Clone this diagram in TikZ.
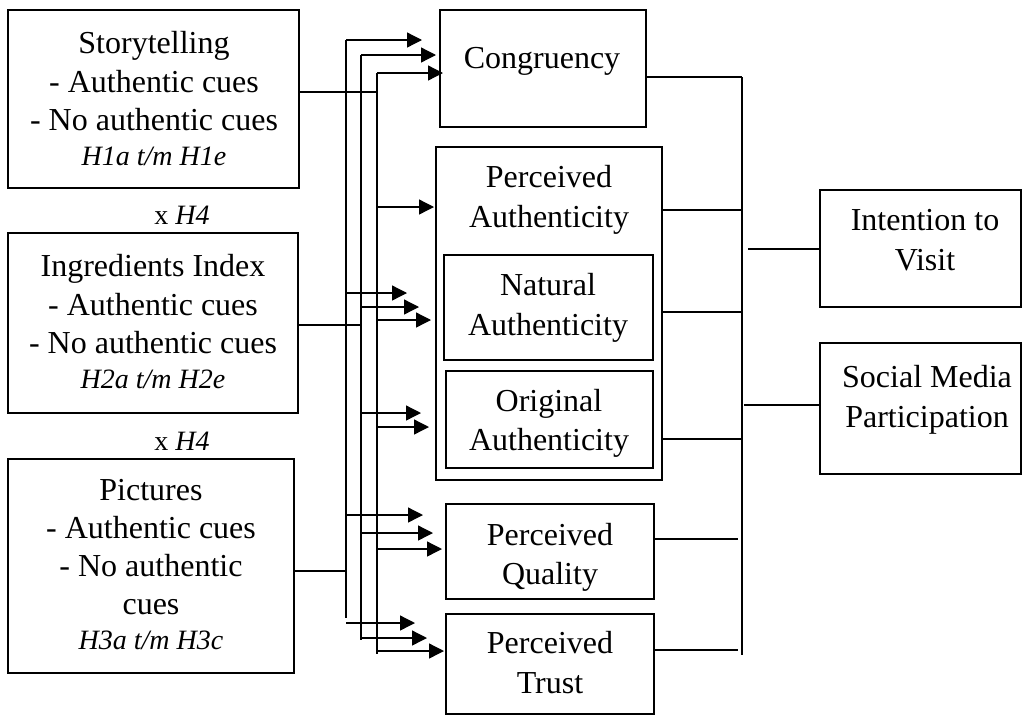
\documentclass[tikz,border=0pt]{standalone}
\usepackage{fontspec}
\setmainfont{Liberation Serif}
\usetikzlibrary{arrows.meta}
\newcommand\mkbox[5]{\node[box, minimum width={(#4)-(#2)}, minimum height={(#5)-(#3)}] (#1) at ({((#2)+(#4))/2},{((#3)+(#5))/2}) {};}
\begin{document}
\begin{tikzpicture}[x=1pt,y=-1pt,
  box/.style={draw, line width=2.6pt, inner sep=0pt, outer sep=0pt},
  txt/.style={anchor=base, inner sep=0pt, font=\fontsize{32}{39}\selectfont},
  hyp/.style={anchor=base, inner sep=0pt, font=\fontsize{28}{34}\selectfont\itshape},
  sml/.style={anchor=base, inner sep=0pt, font=\fontsize{28}{34}\selectfont},
  conn/.style={line width=1.3pt},
  arr/.style={line width=1.3pt, -{Triangle[length=15pt,width=15pt]}}]
\useasboundingbox (0,0) rectangle (1024,718);

% boxes
\mkbox{story}{8}{10}{299}{188}
\mkbox{ingr}{8}{233}{298}{413}
\mkbox{pict}{8}{459}{294}{673}
\mkbox{cong}{440}{10}{646}{127}
\mkbox{pa}{436}{147}{662}{480}
\mkbox{nat}{444}{255}{653}{360}
\mkbox{orig}{446}{371}{653}{468}
\mkbox{qual}{446}{504}{654}{599}
\mkbox{trust}{446}{614}{654}{714}
\mkbox{intent}{820}{190}{1021}{307}
\mkbox{social}{820}{343}{1021}{474}

% texts left
\node[txt] (t1) at (154,53) {Storytelling};
\node[txt] (t2) at (154,92) {- Authentic cues};
\node[txt] (t3) at (154,130) {- No authentic cues};
\node[hyp] (t4) at (154,165) {H1a t/m H1e};
\node[sml] (x1) at (182,224) {x \textit{H4}};
\node[txt] (t5) at (153,276) {Ingredients Index};
\node[txt] (t6) at (153,315) {- Authentic cues};
\node[txt] (t7) at (153,353) {- No authentic cues};
\node[hyp] (t8) at (153,388) {H2a t/m H2e};
\node[sml] (x2) at (182,450) {x \textit{H4}};
\node[txt] (t9) at (151,500) {Pictures};
\node[txt] (t10) at (151,538) {- Authentic cues};
\node[txt] (t11) at (151,576) {- No authentic};
\node[txt] (t12) at (151,614) {cues};
\node[hyp] (t13) at (151,649) {H3a t/m H3c};

% texts middle
\node[txt] (m1) at (542,68) {Congruency};
\node[txt] (m2) at (549,187) {Perceived};
\node[txt] (m3) at (549,227) {Authenticity};
\node[txt] (m4) at (548,295) {Natural};
\node[txt] (m5) at (548,335) {Authenticity};
\node[txt] (m6) at (549,411) {Original};
\node[txt] (m7) at (549,450) {Authenticity};
\node[txt] (m8) at (550,545) {Perceived};
\node[txt] (m9) at (550,584) {Quality};
\node[txt] (m10) at (550,653) {Perceived};
\node[txt] (m11) at (550,693) {Trust};

% texts right
\node[txt] (r1) at (925,230) {Intention to};
\node[txt] (r2) at (925,270) {Visit};
\node[txt] (r3) at (927,387) {Social Media};
\node[txt] (r4) at (927,427) {Participation};

% left buses
\coordinate (b1) at (346,0);
\coordinate (b2) at (361,0);
\coordinate (b3) at (377,0);
\draw[conn] (b1 |- 0,40) -- (b1 |- 0,618);
\draw[conn] (b2 |- 0,55) -- (b2 |- 0,640);
\draw[conn] (b3 |- 0,73) -- (b3 |- 0,654);

% inputs
\draw[conn] (story.east |- 0,92) -- (b3 |- 0,92);
\draw[conn] (ingr.east |- 0,325) -- (b2 |- 0,325);
\draw[conn] (pict.east |- 0,571) -- (b1 |- 0,571);

% arrows
\foreach \y/\t in {40/422, 293/407, 515/423, 623/415}
  \draw[arr] (b1 |- 0,\y) -- (\t,\y);
\foreach \y/\t in {55/436, 307/419, 413/421, 533/433, 638/427}
  \draw[arr] (b2 |- 0,\y) -- (\t,\y);
\foreach \y/\t in {73/443, 207/434, 320/431, 427/429, 549/442, 651/444}
  \draw[arr] (b3 |- 0,\y) -- (\t,\y);

% right bus
\coordinate (rb) at (742,0);
\draw[conn] (rb |- 0,77) -- (rb |- 0,655);
\draw[conn] (cong.east |- 0,77) -- (rb |- 0,77);
\draw[conn] (pa.east |- 0,210) -- (rb |- 0,210);
\draw[conn] (pa.east |- 0,312) -- (rb |- 0,312);
\draw[conn] (pa.east |- 0,439) -- (rb |- 0,439);
\draw[conn] (qual.east |- 0,539) -- (738,539);
\draw[conn] (trust.east |- 0,650) -- (738,650);
\draw[conn] (748,249) -- (intent.west |- 0,249);
\draw[conn] (744,405) -- (social.west |- 0,405);
\end{tikzpicture}
\end{document}
